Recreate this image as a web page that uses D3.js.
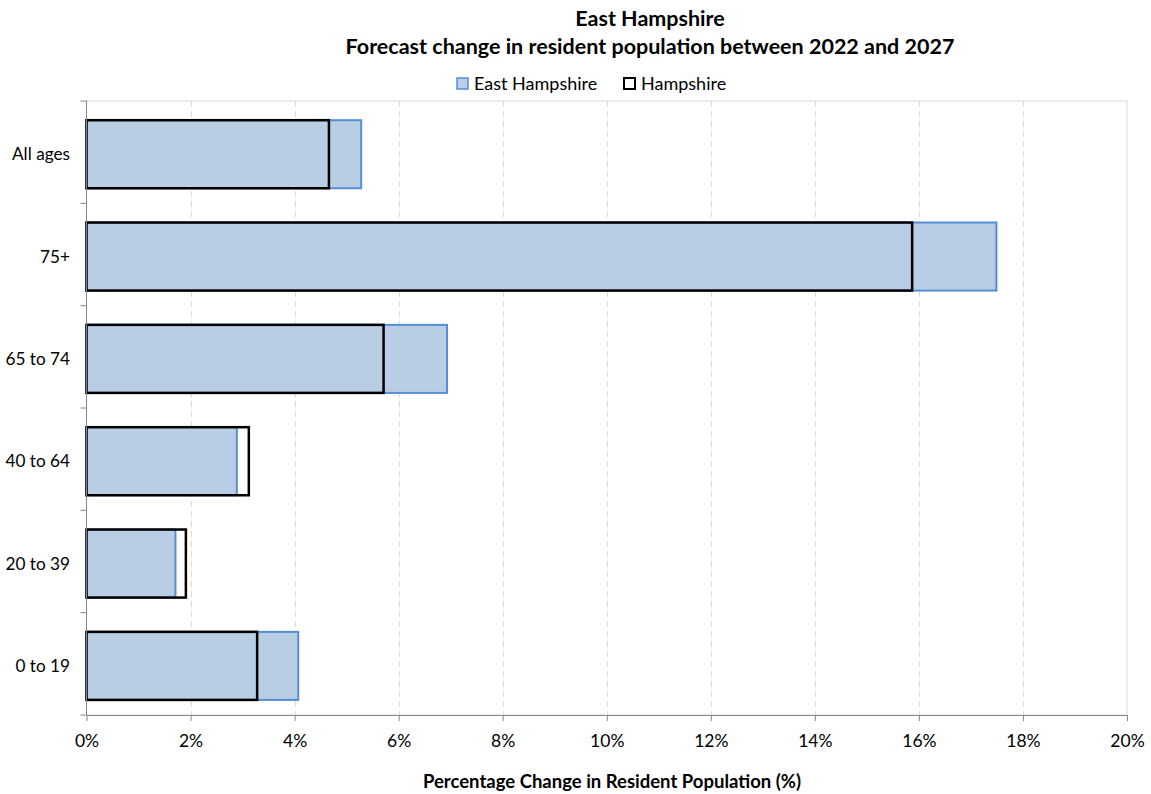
<!DOCTYPE html>
<html>
<head>
<meta charset="utf-8">
<script src="https://cdn.jsdelivr.net/npm/d3@7"></script>
<style>
  html, body { margin: 0; padding: 0; background: #fff; }
  svg text { font-family: Lato, "Open Sans", "Liberation Sans", sans-serif; fill: #000; }
</style>
</head>
<body>
<svg id="chart" width="1151" height="794"></svg>
<script>
// Age bands, top to bottom
const categories = ["All ages", "75+", "65 to 74", "40 to 64", "20 to 39", "0 to 19"];
// Forecast % change 2022-2027
const eastHampshire = [5.28, 17.49, 6.93, 2.89, 1.71, 4.07];
const hampshire     = [4.66, 15.87, 5.71, 3.12, 1.91, 3.28];
const xTicks = [0, 2, 4, 6, 8, 10, 12, 14, 16, 18, 20];
const seriesNames = ["East Hampshire", "Hampshire"];

const svg = d3.select("#chart");
const plot = { left: 86.5, right: 1127, top: 101, bottom: 715 };

const x = d3.scaleLinear().domain([0, 20]).range([plot.left, plot.right]);
const y = d3.scaleBand().domain(categories).range([plot.top, plot.bottom])
  .paddingInner(0.335).paddingOuter(0.1675).align(0.56);

// Titles
svg.append("text").attr("x", 650).attr("y", 26).attr("text-anchor", "middle")
  .attr("font-size", 21.5).attr("font-weight", "bold").text("East Hampshire");
svg.append("text").attr("x", 650).attr("y", 54).attr("text-anchor", "middle")
  .attr("font-size", 21.5).attr("font-weight", "bold")
  .text("Forecast change in resident population between 2022 and 2027");

// Plot area border
svg.append("rect").attr("x", plot.left).attr("y", plot.top)
  .attr("width", plot.right - plot.left).attr("height", plot.bottom - plot.top)
  .attr("fill", "none").attr("stroke", "#d9d9d9").attr("stroke-width", 1);

// Vertical dashed gridlines
svg.append("g").selectAll("line").data(xTicks.slice(1, -1)).join("line")
  .attr("x1", d => Math.round(x(d)) + 0.5).attr("x2", d => Math.round(x(d)) + 0.5)
  .attr("y1", plot.top).attr("y2", plot.bottom)
  .attr("stroke", "#d9d9d9").attr("stroke-width", 1).attr("stroke-dasharray", "6,4");

// East Hampshire bars (filled)
svg.append("g").selectAll("rect").data(categories).join("rect")
  .attr("x", x(0)).attr("y", d => y(d))
  .attr("width", (d, i) => x(eastHampshire[i]) - x(0)).attr("height", y.bandwidth())
  .attr("fill", "#b9cde5").attr("stroke", "#558ed5").attr("stroke-width", 2);

// Hampshire bars (outline only, overlaid)
svg.append("g").selectAll("rect").data(categories).join("rect")
  .attr("x", x(0)).attr("y", d => y(d))
  .attr("width", (d, i) => x(hampshire[i]) - x(0)).attr("height", y.bandwidth())
  .attr("fill", "none").attr("stroke", "#000").attr("stroke-width", 2.5);

// X axis
const xAxis = svg.append("g").attr("transform", `translate(0,${plot.bottom})`)
  .call(d3.axisBottom(x).tickValues(xTicks).tickFormat(d => d + "%").tickSize(6).tickSizeOuter(0));
xAxis.select(".domain").attr("stroke", "#868686");
xAxis.selectAll(".tick line").attr("stroke", "#868686");
xAxis.selectAll(".tick text").attr("font-size", 17.5).attr("y", 32).attr("dy", null)
  .style("font-family", "Lato, 'Open Sans', sans-serif");

// Y axis line and ticks at band boundaries
const yg = svg.append("g");
yg.append("line").attr("x1", plot.left).attr("x2", plot.left)
  .attr("y1", plot.top).attr("y2", plot.bottom).attr("stroke", "#868686");
const step = (plot.bottom - plot.top) / categories.length;
yg.selectAll("line.tk").data(d3.range(categories.length + 1)).join("line").attr("class", "tk")
  .attr("x1", plot.left - 6).attr("x2", plot.left)
  .attr("y1", i => plot.top + i * step).attr("y2", i => plot.top + i * step)
  .attr("stroke", "#868686");
yg.selectAll("text").data(categories).join("text")
  .attr("x", 70).attr("y", d => y(d) + y.bandwidth() / 2).attr("dy", "0.35em")
  .attr("text-anchor", "end").attr("font-size", 17.2).text(d => d);

// Axis title
svg.append("text").attr("x", 612).attr("y", 788).attr("text-anchor", "middle")
  .attr("font-size", 18.5).attr("font-weight", "bold")
  .text("Percentage Change in Resident Population (%)");

// Legend
const legend = svg.append("g");
const lg1 = legend.append("g").attr("transform", "translate(457,78)");
lg1.append("rect").attr("width", 11).attr("height", 11)
  .attr("fill", "#b9cde5").attr("stroke", "#558ed5").attr("stroke-width", 1.5);
lg1.append("text").attr("x", 17).attr("y", 12).attr("font-size", 18).text(seriesNames[0]);
const lg2 = legend.append("g").attr("transform", "translate(624,78)");
lg2.append("rect").attr("width", 11).attr("height", 11)
  .attr("fill", "none").attr("stroke", "#000").attr("stroke-width", 2);
lg2.append("text").attr("x", 17).attr("y", 12).attr("font-size", 18).text(seriesNames[1]);
</script>
</body>
</html>
